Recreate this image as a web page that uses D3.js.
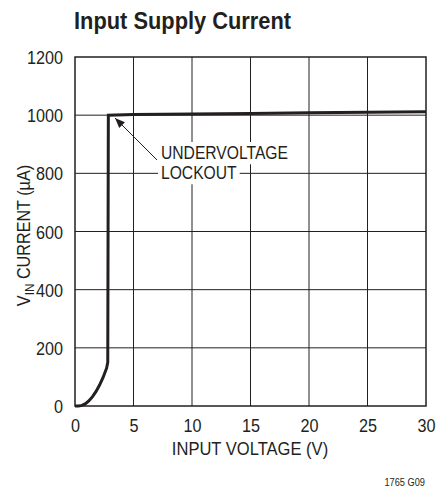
<!DOCTYPE html>
<html><head><meta charset="utf-8">
<script src="https://cdn.jsdelivr.net/npm/d3@7/dist/d3.min.js"></script>
<style>body{margin:0;background:#fff}svg{display:block}text{font-family:"Liberation Sans",Arial,sans-serif;fill:#231f20}</style>
</head><body><svg id="c" width="436" height="490"></svg>
<script>
const voltage = [0, 0.3, 0.6, 0.9, 1.2, 1.5, 1.8, 2.1, 2.4, 2.7, 2.8, 2.85, 5, 10, 15, 20, 25, 30];
const current = [0, 0, 2, 8, 18, 32, 50, 72, 98, 130, 150, 1000, 1002, 1004, 1006, 1008, 1010, 1012];
const xTicks = [0, 5, 10, 15, 20, 25, 30];
const yTicks = [0, 200, 400, 600, 800, 1000, 1200];

const svg = d3.select("#c");
const L = 75, R = 426, T = 57, B = 406;
const SX = 0.9;
const x = d3.scaleLinear().domain([0, 30]).range([L, R]);
const y = d3.scaleLinear().domain([0, 1200]).range([B, T]);

function cond(t, px, py, sx) {
  t.attr("x", px / sx).attr("y", py).attr("transform", `scale(${sx},1)`);
  return t;
}

// grid
svg.append("g").selectAll("line").data(xTicks.slice(1, -1)).join("line")
  .attr("x1", d => x(d)).attr("x2", d => x(d)).attr("y1", T).attr("y2", B)
  .attr("stroke", "#231f20").attr("stroke-width", 1);
svg.append("g").selectAll("line").data(yTicks.slice(1, -1)).join("line")
  .attr("y1", d => y(d)).attr("y2", d => y(d)).attr("x1", L).attr("x2", R)
  .attr("stroke", "#231f20").attr("stroke-width", 1);

// annotation backgrounds layer
const bg = svg.append("g");

// curve
const line = d3.line().x((d, i) => x(voltage[i])).y(d => y(d));
svg.append("path").datum(current).attr("d", line).attr("fill", "none")
  .attr("stroke", "#231f20").attr("stroke-width", 3).attr("stroke-linejoin", "miter");

// frame
svg.append("rect").attr("x", L).attr("y", T).attr("width", R - L).attr("height", B - T)
  .attr("fill", "none").attr("stroke", "#231f20").attr("stroke-width", 1.5);

// axes labels
const xa = d3.axisBottom(x).tickValues(xTicks).tickSize(0).tickFormat(d3.format("d"));
svg.append("g").attr("transform", `translate(0,${B})`).call(xa)
  .call(g => g.select(".domain").remove())
  .call(g => g.selectAll("text").attr("font-size", 18).attr("font-family", null)
    .attr("dy", null).attr("y", 26).attr("x", 0).attr("transform", `scale(${SX},1)`));
const ya = d3.axisLeft(y).tickValues(yTicks).tickSize(0).tickFormat(d3.format("d"));
svg.append("g").attr("transform", `translate(${L},0)`).call(ya)
  .call(g => g.select(".domain").remove())
  .call(g => g.selectAll("text").attr("font-size", 18).attr("font-family", null)
    .attr("dy", null).attr("y", 6.5).attr("x", -12 / SX).attr("transform", `scale(${SX},1)`));

// annotation
svg.append("defs").append("marker").attr("id", "ah").attr("viewBox", "0 0 10 10")
  .attr("refX", 10).attr("refY", 5).attr("markerWidth", 11).attr("markerHeight", 10)
  .attr("markerUnits", "userSpaceOnUse").attr("orient", "auto")
  .append("path").attr("d", "M0,1 L10,5 L0,9 Z").attr("fill", "#231f20");
svg.append("line").attr("x1", 157).attr("y1", 160).attr("x2", 115).attr("y2", 118)
  .attr("stroke", "#231f20").attr("stroke-width", 1).attr("marker-end", "url(#ah)");
const a1 = cond(svg.append("text").attr("font-size", 18).text("UNDERVOLTAGE"), 161, 159, 0.87);
const a2 = cond(svg.append("text").attr("font-size", 18).text("LOCKOUT"), 161, 179, 0.87);
[a1, a2].forEach(t => {
  const r = t.node().getBoundingClientRect();
  bg.append("rect").attr("x", r.left - 3).attr("y", r.top - 1)
    .attr("width", r.width + 6).attr("height", r.height + 2).attr("fill", "#fff");
});

// title
cond(svg.append("text").attr("font-size", 24).attr("font-weight", "bold").text("Input Supply Current"), 74, 29, 0.91);

// x label
cond(svg.append("text").attr("text-anchor", "middle").attr("font-size", 18).text("INPUT VOLTAGE (V)"), 250, 455, 0.92);

// y label
const yl = svg.append("text").attr("transform", `translate(30,${(T + B) / 2 + 4}) rotate(-90) scale(0.9,1)`)
  .attr("text-anchor", "middle").attr("font-size", 18);
yl.append("tspan").text("V");
yl.append("tspan").attr("font-size", 13).attr("dy", 4).text("IN");
yl.append("tspan").attr("dy", -4).text(" CURRENT (µA)");

// code
cond(svg.append("text").attr("text-anchor", "end").attr("font-size", 11).text("1765 G09"), 425, 486, 0.84);
</script></body></html>
